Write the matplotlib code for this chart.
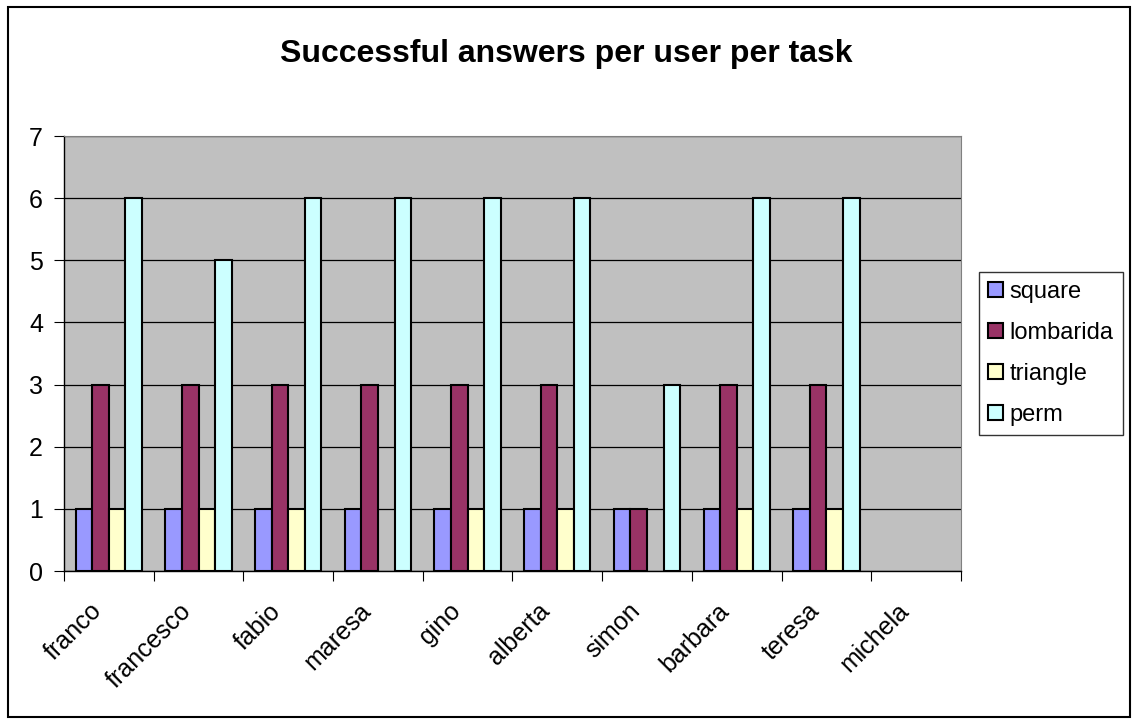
import matplotlib.pyplot as plt
import numpy as np
from matplotlib.patches import Rectangle
from matplotlib.transforms import ScaledTranslation

plt.rcParams['font.family'] = ['Liberation Sans', 'DejaVu Sans']

# 数据
users = ['franco', 'francesco', 'fabio', 'maresa', 'gino', 'alberta',
         'simon', 'barbara', 'teresa', 'michela']
square = [1, 1, 1, 1, 1, 1, 1, 1, 1, 0]
lombarida = [3, 3, 3, 3, 3, 3, 1, 3, 3, 0]
triangle = [1, 1, 1, 0, 1, 1, 0, 1, 1, 0]
perm = [6, 5, 6, 6, 6, 6, 3, 6, 6, 0]

series = [('square', square, '#9999FF'),
          ('lombarida', lombarida, '#993366'),
          ('triangle', triangle, '#FFFFCC'),
          ('perm', perm, '#CCFFFF')]

fig = plt.figure(figsize=(11.32, 7.2), dpi=100)
fig.patches.append(Rectangle((0.007, 0.004), 0.991, 0.986, transform=fig.transFigure,
                             fill=False, edgecolor='black', linewidth=1.5))

ax = fig.add_axes([0.0565, 0.2069, 0.7924, 0.6042])
ax.set_facecolor('#C0C0C0')

x = np.arange(len(users))
w = 0.185
for i, (name, vals, col) in enumerate(series):
    bars = ax.bar(x + (i - 1.5) * w, vals, w, color=col, edgecolor='black',
                  linewidth=1.5, label=name, zorder=3)
    # Excel不画高度为0的柱子
    for b, v in zip(bars, vals):
        if v == 0:
            b.set_visible(False)

ax.set_xlim(-0.5, len(users) - 0.5)
ax.set_ylim(0, 7)
ax.set_yticks(range(8))
ax.yaxis.grid(True, color='black', linewidth=0.9, zorder=1)
ax.set_axisbelow(True)

# 类别刻度在分组边界
ax.set_xticks(np.arange(len(users) + 1) - 0.5)
ax.set_xticklabels([])
ax.set_xticks(x, minor=True)
ax.set_xticklabels(users, minor=True, rotation=45, ha='right',
                   rotation_mode='anchor', fontsize=18)
ax.tick_params(axis='x', which='minor', length=0, pad=20)
ax.tick_params(axis='x', which='major', length=7, direction='out', color='black')
ax.tick_params(axis='y', length=7, direction='out', labelsize=18, pad=8)
for lab in ax.get_xticklabels(minor=True):
    lab.set_transform(lab.get_transform() + ScaledTranslation(-14/72, 0, fig.dpi_scale_trans))

for s in ['top', 'right']:
    ax.spines[s].set_color('#808080')
for s in ['left', 'bottom']:
    ax.spines[s].set_color('black')
    ax.spines[s].set_linewidth(1.0)

fig.text(0.5, 0.925, 'Successful answers per user per task', ha='center',
         va='center', fontsize=23, fontweight='bold')

leg = ax.legend(loc='center left', bbox_to_anchor=(1.02, 0.5), fontsize=17,
                frameon=True, fancybox=False, edgecolor='black',
                handlelength=0.6, handleheight=0.6, handletextpad=0.3,
                labelspacing=0.8, borderpad=0.4, borderaxespad=0)
leg.get_frame().set_linewidth(1.0)

plt.savefig('out.png', dpi=100)
